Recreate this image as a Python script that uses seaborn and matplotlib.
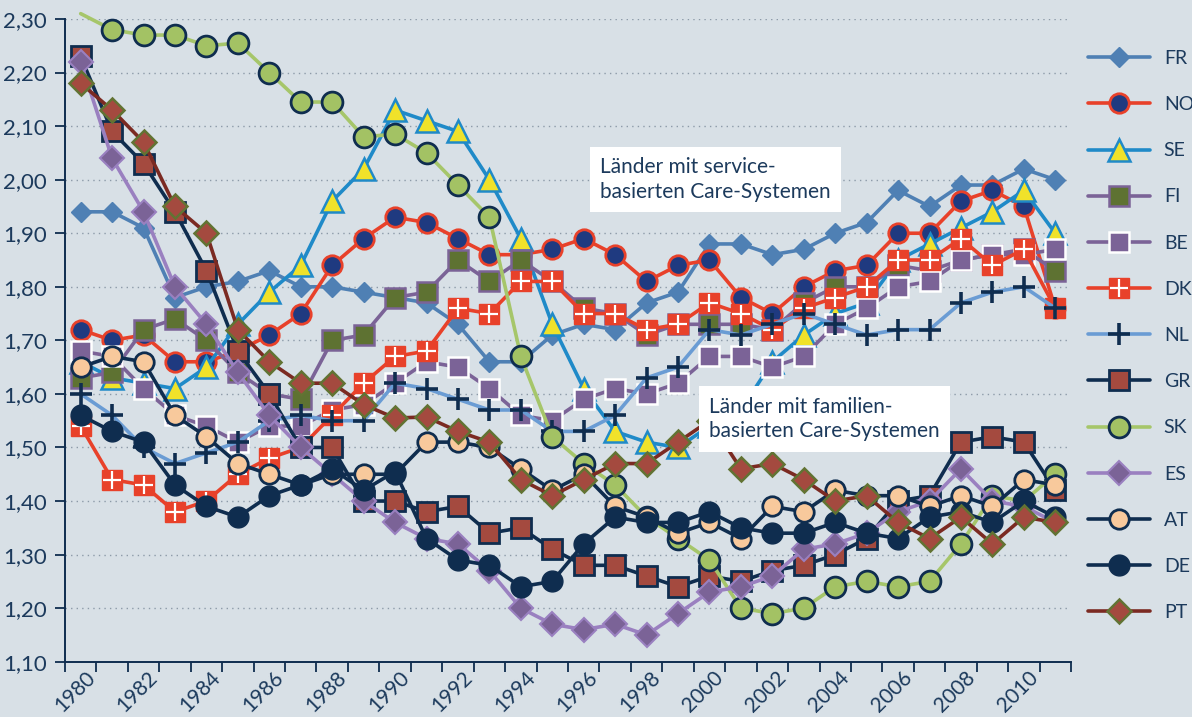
import matplotlib
matplotlib.use("Agg")
import matplotlib.pyplot as plt
import seaborn as sns
from matplotlib.lines import Line2D
from matplotlib.legend_handler import HandlerTuple
from matplotlib.transforms import ScaledTranslation
from matplotlib.ticker import FixedLocator, FuncFormatter

# Geburtenziffer 1980-2011
years = list(range(1980, 2012))

FR = [1.94, 1.94, 1.91, 1.78, 1.80, 1.81, 1.83, 1.80, 1.80, 1.79, 1.78, 1.77, 1.73, 1.66, 1.66, 1.71,
      1.73, 1.72, 1.77, 1.79, 1.88, 1.88, 1.86, 1.87, 1.90, 1.92, 1.98, 1.95, 1.99, 1.99, 2.02, 2.00]
NO = [1.72, 1.70, 1.71, 1.66, 1.66, 1.68, 1.71, 1.75, 1.84, 1.89, 1.93, 1.92, 1.89, 1.86, 1.86, 1.87,
      1.89, 1.86, 1.81, 1.84, 1.85, 1.78, 1.75, 1.80, 1.83, 1.84, 1.90, 1.90, 1.96, 1.98, 1.95, 1.76]
SE = [1.66, 1.63, 1.62, 1.61, 1.65, 1.73, 1.79, 1.84, 1.96, 2.02, 2.13, 2.11, 2.09, 2.00, 1.89, 1.73,
      1.61, 1.53, 1.51, 1.50, 1.54, 1.57, 1.66, 1.71, 1.75, 1.77, 1.85, 1.88, 1.91, 1.94, 1.98, 1.90]
FI = [1.63, 1.64, 1.72, 1.74, 1.70, 1.64, 1.60, 1.59, 1.70, 1.71, 1.78, 1.79, 1.85, 1.81, 1.85, 1.81,
      1.76, 1.75, 1.71, 1.73, 1.73, 1.73, 1.72, 1.77, 1.80, 1.80, 1.84, 1.83, 1.85, 1.86, 1.87, 1.83]
BE = [1.68, 1.67, 1.61, 1.56, 1.54, 1.51, 1.54, 1.54, 1.57, 1.58, 1.62, 1.66, 1.65, 1.61, 1.56, 1.55,
      1.59, 1.61, 1.60, 1.62, 1.67, 1.67, 1.65, 1.67, 1.73, 1.76, 1.80, 1.81, 1.85, 1.86, 1.86, 1.87]
DK = [1.54, 1.44, 1.43, 1.38, 1.40, 1.45, 1.48, 1.50, 1.56, 1.62, 1.67, 1.68, 1.76, 1.75, 1.81, 1.81,
      1.75, 1.75, 1.72, 1.73, 1.77, 1.75, 1.72, 1.76, 1.78, 1.80, 1.85, 1.85, 1.89, 1.84, 1.87, 1.76]
NL = [1.60, 1.56, 1.50, 1.47, 1.49, 1.51, 1.55, 1.56, 1.55, 1.55, 1.62, 1.61, 1.59, 1.57, 1.57, 1.53,
      1.53, 1.56, 1.63, 1.65, 1.72, 1.71, 1.73, 1.75, 1.73, 1.71, 1.72, 1.72, 1.77, 1.79, 1.80, 1.76]
GR = [2.23, 2.09, 2.03, 1.94, 1.83, 1.68, 1.60, 1.50, 1.50, 1.40, 1.40, 1.38, 1.39, 1.34, 1.35, 1.31,
      1.28, 1.28, 1.26, 1.24, 1.26, 1.25, 1.27, 1.28, 1.30, 1.33, 1.40, 1.41, 1.51, 1.52, 1.51, 1.42]
SK = [2.31, 2.28, 2.27, 2.27, 2.25, 2.255, 2.20, 2.145, 2.145, 2.08, 2.085, 2.05, 1.99, 1.93, 1.67, 1.52,
      1.47, 1.43, 1.37, 1.33, 1.29, 1.20, 1.19, 1.20, 1.24, 1.25, 1.24, 1.25, 1.32, 1.41, 1.40, 1.45]
ES = [2.22, 2.04, 1.94, 1.80, 1.73, 1.64, 1.56, 1.50, 1.45, 1.40, 1.36, 1.33, 1.32, 1.27, 1.20, 1.17,
      1.16, 1.17, 1.15, 1.19, 1.23, 1.24, 1.26, 1.31, 1.32, 1.34, 1.38, 1.40, 1.46, 1.40, 1.39, 1.36]
AT = [1.65, 1.67, 1.66, 1.56, 1.52, 1.47, 1.45, 1.43, 1.45, 1.45, 1.45, 1.51, 1.51, 1.50, 1.46, 1.42,
      1.45, 1.39, 1.37, 1.34, 1.36, 1.33, 1.39, 1.38, 1.42, 1.41, 1.41, 1.39, 1.41, 1.39, 1.44, 1.43]
DE = [1.56, 1.53, 1.51, 1.43, 1.39, 1.37, 1.41, 1.43, 1.46, 1.42, 1.455, 1.33, 1.29, 1.28, 1.24, 1.25,
      1.32, 1.37, 1.36, 1.36, 1.38, 1.35, 1.34, 1.34, 1.36, 1.34, 1.33, 1.37, 1.38, 1.36, 1.40, 1.37]
PT = [2.18, 2.13, 2.07, 1.95, 1.90, 1.72, 1.66, 1.62, 1.62, 1.58, 1.555, 1.557, 1.53, 1.51, 1.44, 1.41,
      1.44, 1.47, 1.47, 1.51, 1.55, 1.46, 1.47, 1.44, 1.40, 1.41, 1.36, 1.33, 1.37, 1.32, 1.37, 1.36]

countries = ["FR", "NO", "SE", "FI", "BE", "DK", "NL", "GR", "SK", "ES", "AT", "DE", "PT"]
series = [FR, NO, SE, FI, BE, DK, NL, GR, SK, ES, AT, DE, PT]

navy = "#0f2d4f"
txt = "#1c3a5c"
bg = "#d8e0e6"

# line colour, marker, size, face, edge, edge width
styles = {
    "FR": ("#4f80b4", "D", 10, "#4f80b4", "#4f80b4", 1.0),
    "NO": ("#e8412a", "o", 14, "#1f3a80", "#e8412a", 2.0),
    "SE": ("#1f8ac8", "^", 16, "#f0e22a", "#1f8ac8", 1.8),
    "FI": ("#7b6397", "s", 14, "#5e7232", "#7b6397", 1.8),
    "BE": ("#7b6397", "s", 14, "#7b6397", "white", 1.8),
    "DK": ("#e8412a", "s", 14, "#e8412a", "#e8412a", 1.0),
    "NL": ("#6a9cd4", "+", 16, navy, navy, 2.6),
    "GR": (navy, "s", 14, "#a44a3f", navy, 2.0),
    "SK": ("#a6c66a", "o", 15, "#a3c264", navy, 2.0),
    "ES": ("#9a80c0", "D", 12, "#7b6397", "#9a80c0", 1.5),
    "AT": (navy, "o", 14, "#f8c99c", navy, 2.0),
    "DE": (navy, "o", 15, navy, navy, 1.0),
    "PT": ("#7b2a22", "D", 12, "#a44a3f", "#627333", 1.8),
}

sns.set_theme(style="white")
plt.rcParams["font.family"] = ["Lato", "DejaVu Sans"]

fig = plt.figure(figsize=(11.92, 7.17), dpi=100, facecolor=bg)
ax = fig.add_axes([0.0545, 0.0771, 0.844, 0.8964])
ax.set_facecolor(bg)

handles = []
for name, vals in zip(countries, series):
    lc, m, ms, fc, ec, mw = styles[name]
    kw = dict(color=lc, linewidth=2.6, marker=m, markersize=ms, mfc=fc, mec=ec, mew=mw, clip_on=False)
    if name == "SK":
        kw["markevery"] = list(range(1, len(years)))
    sns.lineplot(x=years, y=vals, ax=ax, **kw)
    h = Line2D([], [], color=lc, linewidth=2.6, marker=m, markersize=ms, mfc=fc, mec=ec, mew=mw)
    if name == "DK":
        sns.lineplot(x=years, y=vals, ax=ax, linestyle="none", marker="+", markersize=13,
                     mec="white", mew=1.6, clip_on=False)
        h = (h, Line2D([], [], linestyle="none", marker="+", markersize=13, mec="white", mew=1.6))
    handles.append(h)

ax.set_xlim(1979.5, 2011.5)
ax.set_ylim(1.10, 2.30)

ax.yaxis.set_major_locator(FixedLocator([1.10 + 0.1 * i for i in range(13)]))
ax.yaxis.set_major_formatter(FuncFormatter(lambda v, p: f"{v:.2f}".replace(".", ",")))
ax.grid(axis="y", linestyle=(0, (1, 3)), color="#8c9aa8", linewidth=1.0)
ax.set_axisbelow(True)

ax.xaxis.set_major_locator(FixedLocator([y - 0.5 for y in years] + [2011.5]))
ax.xaxis.set_major_formatter(FuncFormatter(lambda v, p: ""))
ax.xaxis.set_minor_locator(FixedLocator(list(range(1980, 2011, 2))))
ax.xaxis.set_minor_formatter(FuncFormatter(lambda v, p: f"{int(round(v))}"))
ax.tick_params(axis="x", which="major", bottom=True, length=7, width=1.3, color=navy, direction="out")
ax.tick_params(axis="x", which="minor", bottom=True, length=0, labelsize=15, labelcolor=txt, pad=4)
ax.tick_params(axis="y", which="major", left=True, length=7, width=1.3, color=navy, direction="out",
               labelsize=16, labelcolor=txt, pad=6)
for lab in ax.xaxis.get_minorticklabels():
    lab.set_rotation(45)
    lab.set_ha("right")
    lab.set_va("top")
    lab.set_rotation_mode("anchor")
    lab.set_transform(lab.get_transform() + ScaledTranslation(0.04, 0, fig.dpi_scale_trans))

for s in ["top", "right"]:
    ax.spines[s].set_visible(False)
for s in ["left", "bottom"]:
    ax.spines[s].set_color(navy)
    ax.spines[s].set_linewidth(1.4)

box = dict(facecolor="white", edgecolor="none", boxstyle="square,pad=0.5")
ax.text(1996.53, 2.00, "Länder mit service-\nbasierten Care-Systemen", fontsize=15, color=txt,
        va="center", ha="left", linespacing=1.3, bbox=box, zorder=5)
ax.text(1999.99, 1.553, "Länder mit familien-\nbasierten Care-Systemen", fontsize=15, color=txt,
        va="center", ha="left", linespacing=1.3, bbox=box, zorder=5)

leg = ax.legend(handles, countries, loc="upper left", bbox_to_anchor=(1088 / 1192, 1 - 50 / 717),
                bbox_transform=fig.transFigure, frameon=False, fontsize=14, labelcolor=txt,
                handlelength=3.2, handletextpad=0.7, labelspacing=1.5, borderpad=0, borderaxespad=0,
                handler_map={tuple: HandlerTuple(ndivide=1, pad=0)})

fig.savefig("out.png", dpi=100, facecolor=bg)
